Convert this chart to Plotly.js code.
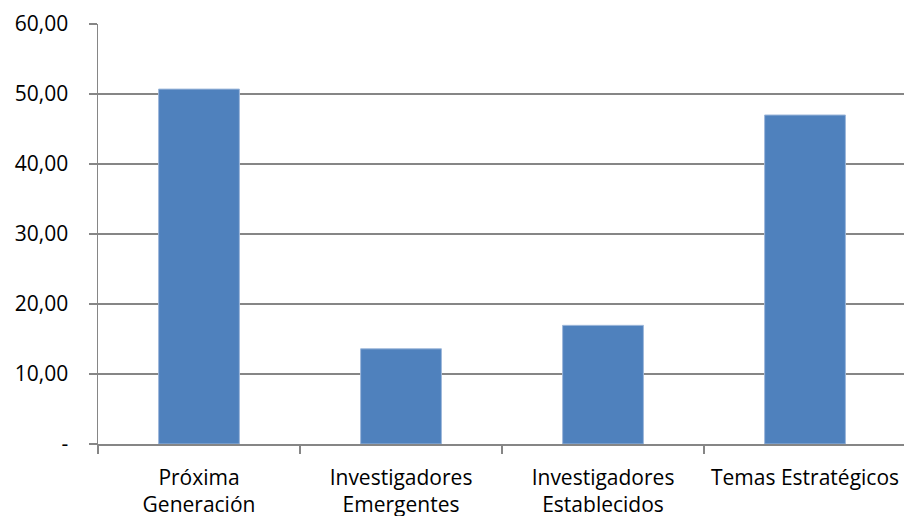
<!DOCTYPE html>
<html>
<head>
<meta charset="utf-8">
<script src="https://cdn.plot.ly/plotly-3.0.1.min.js"></script>
<style>
  html, body { margin: 0; padding: 0; background: #fff; overflow: hidden; }
  #chart { width: 904px; height: 516px; }
</style>
</head>
<body>
<div id="chart"></div>
<script>
// Programme categories (two-line labels)
const categories = [
  "Próxima<br>Generación",
  "Investigadores<br>Emergentes",
  "Investigadores<br>Establecidos",
  "Temas Estratégicos"
];
// Values per programme
const values = [50.7, 13.6, 16.95, 47.0];
// Value-axis ticks, Spanish decimal style with dash for zero
const yTickVals = [0, 10, 20, 30, 40, 50, 60];
const yTickText = ["-", "10,00", "20,00", "30,00", "40,00", "50,00", "60,00"];

const fontFamily = "'Open Sans', sans-serif";

const trace = {
  type: "bar",
  x: categories,
  y: values,
  marker: {
    color: "#4F81BD",
    line: { color: "#9DB7DA", width: 1 }
  },
  hoverinfo: "x+y"
};

const layout = {
  width: 904,
  height: 516,
  margin: { l: 98, r: 0, t: 24, b: 72, pad: 0 },
  paper_bgcolor: "#ffffff",
  plot_bgcolor: "#ffffff",
  bargap: 0.6,
  showlegend: false,
  font: { family: fontFamily, size: 21, color: "#000000" },
  xaxis: {
    type: "category",
    range: [-0.5, 3.49],
    tickson: "boundaries",
    ticks: "outside",
    ticklen: 8,
    tickcolor: "#868686",
    tickwidth: 1.5,
    showline: true,
    linecolor: "#868686",
    linewidth: 1.5,
    showgrid: false,
    zeroline: false,
    tickfont: { family: fontFamily, size: 21, color: "#000000" },
    ticklabelstandoff: 14
  },
  yaxis: {
    range: [0, 60],
    tickvals: yTickVals,
    ticktext: yTickText,
    ticks: "outside",
    ticklen: 8,
    tickcolor: "#868686",
    tickwidth: 1.5,
    showline: true,
    linecolor: "#868686",
    linewidth: 1.5,
    showgrid: true,
    gridcolor: "#868686",
    gridwidth: 1.5,
    zeroline: false,
    tickfont: { family: fontFamily, size: 21, color: "#000000" },
    ticklabelstandoff: 16
  }
};

Plotly.newPlot("chart", [trace], layout, { displayModeBar: false, staticPlot: true });
</script>
</body>
</html>
